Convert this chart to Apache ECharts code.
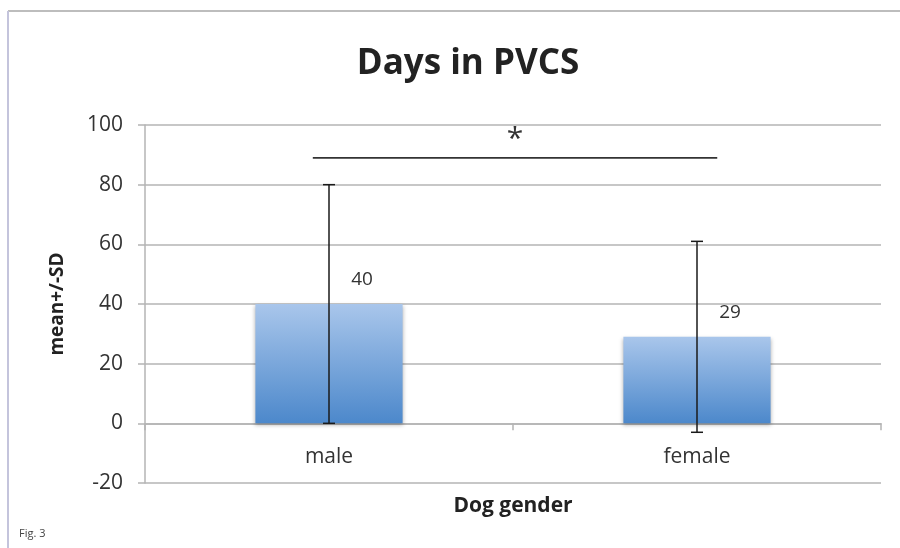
<!DOCTYPE html>
<html>
<head>
<meta charset="utf-8">
<script src="https://cdn.jsdelivr.net/npm/echarts@6/dist/echarts.min.js"></script>
<style>
  html, body { margin: 0; padding: 0; background: #fff; }
  #chart { width: 900px; height: 548px; }
</style>
</head>
<body>
<div id="chart"></div>
<script>
'use strict'

const categories = ['male', 'female'];
const means = [40, 29];
const sdLow = [0, -3];
const sdHigh = [80, 61];
const yTicks = {min: -20, max: 100, interval: 20};
const sigLevel = 89;
const sigStarLevel = 95;

const FONT = '"Open Sans", Lato, sans-serif';
const GRAY = '#b4b4b4';

const chart = echarts.init(document.getElementById('chart'));

const errorData = categories.map((c, i) => [i, sdLow[i], sdHigh[i]]);

chart.setOption({
  animation: false,
  backgroundColor: '#fff',
  title: {
    text: 'Days in PVCS',
    left: 463,
    top: 42,
    textAlign: 'center',
    textStyle: {fontFamily: FONT, fontSize: 35, fontWeight: 'bold', color: '#222'}
  },
  graphic: [
    {type: 'line', shape: {x1: 8, y1: 11, x2: 900, y2: 11}, style: {stroke: '#bdbdbd', lineWidth: 2}},
    {type: 'line', shape: {x1: 8, y1: 11, x2: 8, y2: 548}, style: {stroke: '#c4c4dc', lineWidth: 2}},
    {type: 'text', left: 19, top: 528, style: {text: 'Fig. 3', font: '11px ' + FONT, fill: '#444'}}
  ],
  grid: {left: 145, right: 19, top: 125, bottom: 65, containLabel: false, outerBoundsMode: 'none'},
  xAxis: {
    type: 'category',
    data: categories,
    name: 'Dog gender',
    nameLocation: 'middle',
    nameGap: 13,
    nameTextStyle: {fontFamily: FONT, fontSize: 21, fontWeight: 'bold', color: '#222'},
    axisLine: {lineStyle: {color: GRAY, width: 1.5}},
    axisTick: {show: true, length: 7, lineStyle: {color: GRAY, width: 1.5}},
    axisLabel: {fontFamily: FONT, fontSize: 21, color: '#333', margin: -36}
  },
  yAxis: {
    type: 'value',
    min: yTicks.min,
    max: yTicks.max,
    interval: yTicks.interval,
    name: 'mean+/-SD',
    nameLocation: 'middle',
    nameGap: 78,
    nameTextStyle: {fontFamily: FONT, fontSize: 19, fontWeight: 'bold', color: '#222'},
    axisLine: {show: true, lineStyle: {color: GRAY, width: 1.5}},
    axisTick: {show: true, length: 7, lineStyle: {color: GRAY, width: 1.5}},
    axisLabel: {fontFamily: FONT, fontSize: 21, color: '#333', margin: 22},
    splitLine: {lineStyle: {color: GRAY, width: 1.5}}
  },
  series: [
    {
      type: 'bar',
      data: means,
      barWidth: '40%',
      itemStyle: {
        color: new echarts.graphic.LinearGradient(0, 0, 0, 1, [
          {offset: 0, color: '#a9c6eb'},
          {offset: 1, color: '#4c88cb'}
        ]),
        shadowColor: 'rgba(0,0,0,0.3)',
        shadowBlur: 4,
        shadowOffsetY: 2
      },
      label: {
        show: true,
        position: 'top',
        offset: [33, -10],
        fontFamily: FONT,
        fontSize: 19,
        color: '#333'
      },
      z: 2
    },
    {
      type: 'custom',
      data: errorData,
      z: 5,
      renderItem: function (params, api) {
        const x = api.value(0);
        const lo = api.coord([x, api.value(1)]);
        const hi = api.coord([x, api.value(2)]);
        const cap = 6;
        const style = {stroke: '#1a1a1a', lineWidth: 1.5};
        return {
          type: 'group',
          children: [
            {type: 'line', shape: {x1: lo[0], y1: lo[1], x2: hi[0], y2: hi[1]}, style: style},
            {type: 'line', shape: {x1: hi[0] - cap, y1: hi[1], x2: hi[0] + cap, y2: hi[1]}, style: style},
            {type: 'line', shape: {x1: lo[0] - cap, y1: lo[1], x2: lo[0] + cap, y2: lo[1]}, style: style}
          ]
        };
      }
    },
    {
      type: 'custom',
      data: [[0, 1, sigLevel, sigStarLevel]],
      z: 5,
      renderItem: function (params, api) {
        const a = api.coord([api.value(0), api.value(2)]);
        const b = api.coord([api.value(1), api.value(2)]);
        const s = api.coord([api.value(0), api.value(3)]);
        const band = api.size([1, 0])[0];
        const x1 = a[0] - band * 0.044;
        const x2 = b[0] + band * 0.055;
        return {
          type: 'group',
          children: [
            {type: 'line', shape: {x1: x1, y1: a[1], x2: x2, y2: b[1]}, style: {stroke: '#333', lineWidth: 1.8}},
            {type: 'text', x: (x1 + x2) / 2, y: s[1], style: {text: '*', font: '30px ' + FONT, fill: '#333', textAlign: 'center', textVerticalAlign: 'middle'}}
          ]
        };
      }
    }
  ]
});
</script>
</body>
</html>
